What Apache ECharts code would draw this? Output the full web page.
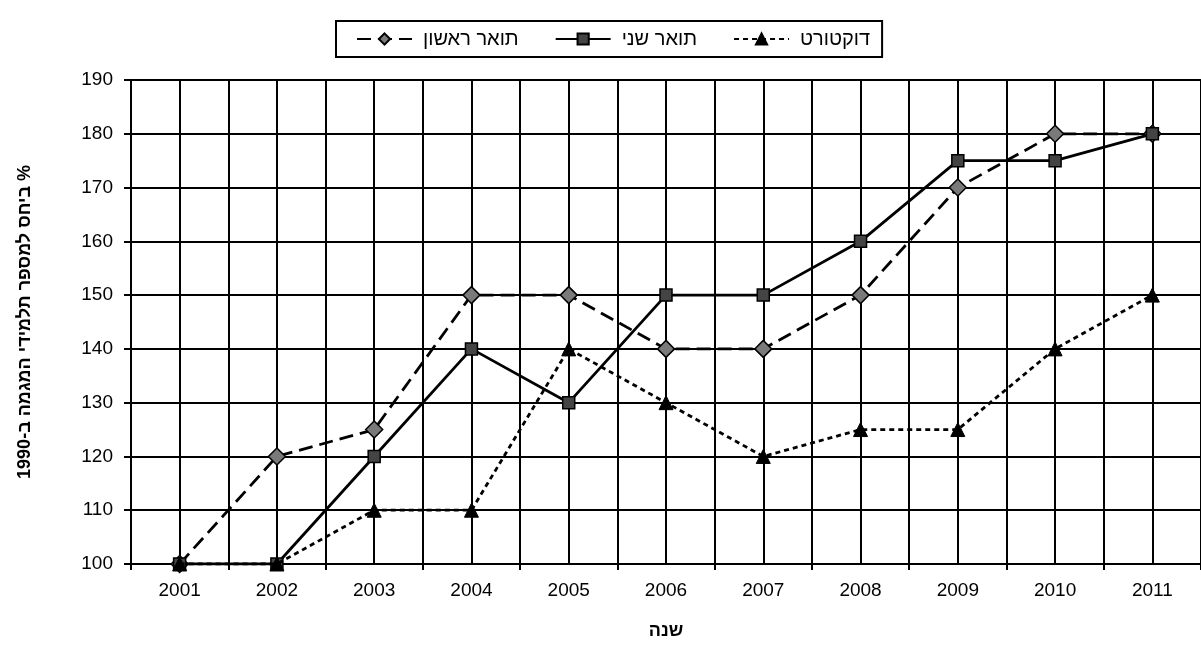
<!DOCTYPE html>
<html>
<head>
<meta charset="utf-8">
<script src="https://cdn.jsdelivr.net/npm/echarts@6/dist/echarts.min.js"></script>
<style>
html,body{margin:0;padding:0;background:#fff;}
#chart{width:1201px;height:645px;}
</style>
</head>
<body>
<div id="chart"></div>
<script>
const years = ['2001','2002','2003','2004','2005','2006','2007','2008','2009','2010','2011'];
const bachelor = [100,120,125,150,150,140,140,150,170,180,180];
const master = [100,100,120,140,130,150,150,160,175,175,180];
const doctorate = [100,100,110,110,140,130,120,125,125,140,150];
const seriesNames = ['תואר ראשון','תואר שני','דוקטורט'];
const yTitle = '\u200F% ביחס למספר תלמידי המגמה ב-1990';
const xTitle = 'שנה';

const font = 'Liberation Sans, Arial, DejaVu Sans, sans-serif';
const chart = echarts.init(document.getElementById('chart'), null, {renderer:'canvas'});
chart.setOption({
  animation:false,
  backgroundColor:'#fff',
  grid:{left:131, right:-4, top:80, bottom:76, containLabel:false},
  legend:{
    left:336, top:21,
    data:seriesNames,
    itemWidth:55, itemHeight:14, itemGap:36,
    padding:[8,12,8,20],
    borderColor:'#000', borderWidth:2,
    textStyle:{fontFamily:font, fontSize:20, color:'#000', padding:[0,0,0,6]}
  },
  xAxis:[
    {
      type:'category', data:years, boundaryGap:true,
      axisLine:{lineStyle:{color:'#000', width:2}},
      axisTick:{show:true, length:6, lineStyle:{color:'#000', width:2}},
      axisLabel:{fontFamily:font, fontSize:19, color:'#000', margin:17},
      splitLine:{show:false},
      name:xTitle, nameLocation:'middle', nameGap:58,
      nameTextStyle:{fontFamily:font, fontSize:18, fontWeight:'bold', color:'#000'}
    },
    {
      type:'value', min:0, max:22, interval:1, position:'bottom',
      axisLine:{show:false}, axisTick:{show:false}, axisLabel:{show:false},
      splitLine:{show:true, lineStyle:{color:'#000', width:2}}
    }
  ],
  yAxis:{
    type:'value', min:100, max:190, interval:10,
    axisLine:{show:true, lineStyle:{color:'#000', width:2}},
    axisTick:{show:true, length:7, lineStyle:{color:'#000', width:2}},
    axisLabel:{fontFamily:font, fontSize:19, color:'#000', margin:18},
    splitLine:{show:true, lineStyle:{color:'#000', width:2}},
    name:yTitle, nameLocation:'middle', nameRotate:90, nameGap:97,
    nameTextStyle:{fontFamily:font, fontSize:18, fontWeight:'bold', color:'#000'}
  },
  series:[
    {
      name:seriesNames[0], type:'line', data:bachelor, xAxisIndex:0,
      symbol:'diamond', symbolSize:17,
      lineStyle:{color:'#000', width:2.8, type:[14,7]},
      itemStyle:{color:'#7a7a7a', borderColor:'#000', borderWidth:1.5},
      z:3
    },
    {
      name:seriesNames[1], type:'line', data:master, xAxisIndex:0,
      symbol:'rect', symbolSize:12,
      lineStyle:{color:'#000', width:2.8, type:'solid'},
      itemStyle:{color:'#444', borderColor:'#000', borderWidth:1.5},
      z:4
    },
    {
      name:seriesNames[2], type:'line', data:doctorate, xAxisIndex:0,
      symbol:'triangle', symbolSize:14,
      lineStyle:{color:'#000', width:2.8, type:[5,4]},
      itemStyle:{color:'#000', borderColor:'#000', borderWidth:1},
      z:5
    }
  ]
});
</script>
</body>
</html>
